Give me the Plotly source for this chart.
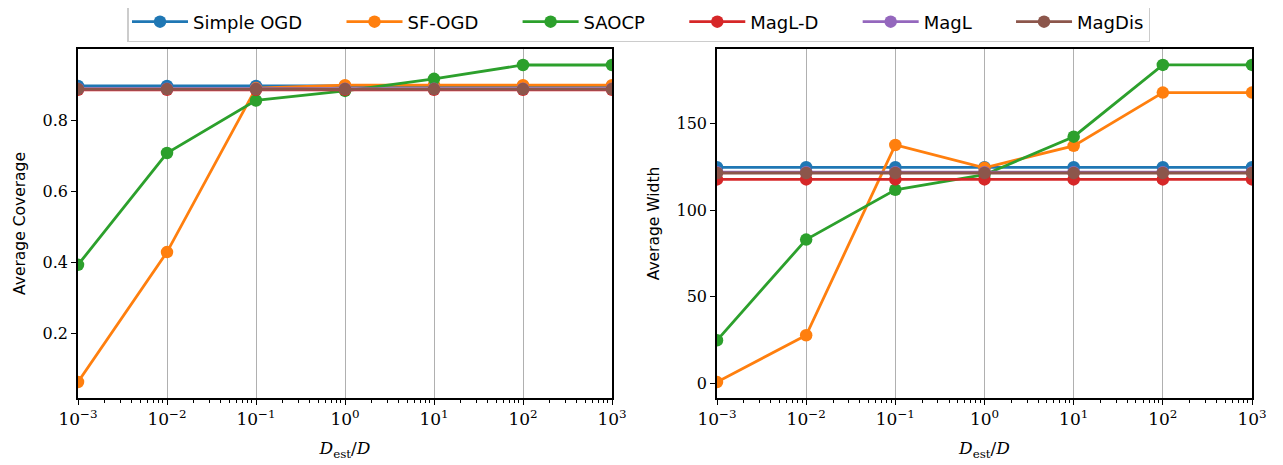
import plotly.graph_objects as go
from plotly.subplots import make_subplots

# ---- data ----
d_ratio = [1e-3, 1e-2, 1e-1, 1, 10, 100, 1000]
methods = ["Simple OGD", "SF-OGD", "SAOCP", "MagL-D", "MagL", "MagDis"]
colors = ["#1f77b4", "#ff7f0e", "#2ca02c", "#d62728", "#9467bd", "#8c564b"]

coverage_simple_ogd = [0.896, 0.896, 0.896, 0.896, 0.896, 0.896, 0.896]
coverage_sf_ogd = [0.062, 0.428, 0.890, 0.898, 0.898, 0.898, 0.898]
coverage_saocp = [0.392, 0.707, 0.855, 0.882, 0.916, 0.955, 0.955]
coverage_magl_d = [0.885, 0.885, 0.885, 0.885, 0.885, 0.885, 0.885]
coverage_magl = [0.888, 0.888, 0.888, 0.888, 0.888, 0.888, 0.888]
coverage_magdis = [0.887, 0.887, 0.887, 0.887, 0.887, 0.887, 0.887]

width_simple_ogd = [124.8, 124.8, 124.8, 124.8, 124.8, 124.8, 124.8]
width_sf_ogd = [0.6, 27.7, 137.7, 124.5, 137.2, 168.0, 168.0]
width_saocp = [24.8, 83.0, 111.8, 120.5, 142.5, 184.0, 184.0]
width_magl_d = [117.8, 117.8, 117.8, 117.8, 117.8, 117.8, 117.8]
width_magl = [122.0, 122.0, 122.0, 122.0, 122.0, 122.0, 122.0]
width_magdis = [121.5, 121.5, 121.5, 121.5, 121.5, 121.5, 121.5]

coverage = [coverage_simple_ogd, coverage_sf_ogd, coverage_saocp,
            coverage_magl_d, coverage_magl, coverage_magdis]
widths = [width_simple_ogd, width_sf_ogd, width_saocp,
          width_magl_d, width_magl, width_magdis]

x_tick_vals = [1e-3, 1e-2, 1e-1, 1, 10, 100, 1000]
x_tick_text = ["10<sup>−3</sup>", "10<sup>−2</sup>", "10<sup>−1</sup>", "10<sup>0</sup>",
               "10<sup>1</sup>", "10<sup>2</sup>", "10<sup>3</sup>"]
cov_ticks = [0.2, 0.4, 0.6, 0.8]
cov_tick_text = ["0.2", "0.4", "0.6", "0.8"]
width_ticks = [0, 50, 100, 150]
width_tick_text = ["0", "50", "100", "150"]

minor_vals = [m * 10 ** k for k in range(-3, 3) for m in range(2, 10)]

SERIF = "DejaVu Serif"
SANS = "DejaVu Sans"
PAD = "\u00a0" * 6

fig = make_subplots(rows=1, cols=2)

for i, name in enumerate(methods):
    label = name + (PAD if i < len(methods) - 1 else "")
    fig.add_trace(go.Scatter(x=d_ratio, y=coverage[i], mode="lines+markers", name=label,
                             line=dict(color=colors[i], width=2.8),
                             marker=dict(color=colors[i], size=12.5),
                             legendgroup=name), row=1, col=1)
for i, name in enumerate(methods):
    fig.add_trace(go.Scatter(x=d_ratio, y=widths[i], mode="lines+markers", name=name,
                             line=dict(color=colors[i], width=2.8),
                             marker=dict(color=colors[i], size=12.5),
                             legendgroup=name, showlegend=False), row=1, col=2)

# page body has an 8px margin: work in page coordinates minus 8
OFF = 8
W, H = 1283 - OFF, 465 - OFF
ytop, ybot = 49 - OFF, 398 - OFF
lx0, lx1 = 78 - OFF, 612 - OFF
rx0, rx1 = 717 - OFF, 1252 - OFF

common_x = dict(type="log", range=[-3, 3], tickvals=x_tick_vals, ticktext=x_tick_text,
                showgrid=True, gridcolor="#b0b0b0", gridwidth=1.3,
                showline=True, linecolor="black", linewidth=1.5, mirror=True,
                ticks="outside", ticklen=5, tickwidth=1.2, tickcolor="black",
                tickfont=dict(family=SERIF, size=17, color="black"),
                zeroline=False, automargin=False,
                minor=dict(tickmode="array", tickvals=minor_vals, ticks="outside",
                           ticklen=3, tickwidth=1, tickcolor="black", showgrid=False),
                title=dict(text="<i>D</i><sub>est</sub>/<i>D</i>",
                           font=dict(family=SERIF, size=17, color="black"), standoff=14))
common_y = dict(showgrid=False, showline=True, linecolor="black", linewidth=1.5, mirror=True,
                ticks="outside", ticklen=5, tickwidth=1.2, tickcolor="black",
                tickfont=dict(family=SERIF, size=16, color="black"), zeroline=False,
                automargin=False)

fig.update_xaxes(**common_x)
fig.update_yaxes(**common_y)

fig.update_layout(
    width=W, height=H,
    margin=dict(l=0, r=0, t=0, b=0, autoexpand=False),
    paper_bgcolor="white", plot_bgcolor="white",
    xaxis=dict(domain=[lx0 / W, lx1 / W]),
    xaxis2=dict(domain=[rx0 / W, rx1 / W]),
    yaxis=dict(domain=[1 - ybot / H, 1 - ytop / H], range=[0.017, 1.0],
               tickvals=cov_ticks, ticktext=cov_tick_text,
               title=dict(text="Average Coverage", font=dict(family=SANS, size=15.5, color="black"),
                          standoff=13)),
    yaxis2=dict(domain=[1 - ybot / H, 1 - ytop / H], range=[-8.6, 193.2],
                tickvals=width_ticks, ticktext=width_tick_text,
                title=dict(text="Average Width", font=dict(family=SANS, size=15.5, color="black"),
                           standoff=13)),
    legend=dict(orientation="h", x=(127 - OFF) / W, xanchor="left", y=1 + (OFF - 2) / H,
                yanchor="top",
                bordercolor="#cccccc", borderwidth=1.5, bgcolor="white",
                font=dict(family=SANS, size=18, color="black"),
                itemwidth=56),
    showlegend=True,
)

fig.write_html("out.html")
